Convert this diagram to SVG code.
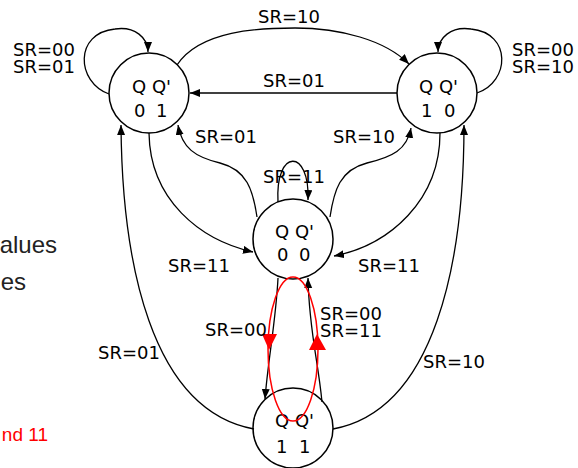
<svg xmlns="http://www.w3.org/2000/svg" width="578" height="468" viewBox="0 0 578 468">
<style>
.st{fill:none;stroke:#000;stroke-width:1.5}
.e{fill:none;stroke:#000;stroke-width:1.3;marker-end:url(#ah)}
.t{font-family:"DejaVu Sans",sans-serif;font-size:18px;fill:#000}
.side{font-family:"Liberation Sans",Arial,sans-serif;font-size:24px;fill:#222;text-anchor:end}
</style>
<defs>
<marker id="ah" markerUnits="userSpaceOnUse" markerWidth="11" markerHeight="9" refX="10" refY="4" orient="auto">
<path d="M0,0 L10,4 L0,8 z" fill="#000"/>
</marker>
</defs>
<rect width="578" height="468" fill="#fff"/>
<text class="side" x="57" y="253">alues</text>
<text class="side" x="26" y="290">es</text>
<text class="side" x="48" y="441" style="font-size:19px;fill:#f00">nd 11</text>

<g id="connectors">
<path class="e" d="M109,94 C76,82 74,33 115,29 C135,26 148,38 148,52"/>
<path class="e" d="M477,93 C510,82 512,33 471,29 C451,26 438,38 438,52"/>
<path class="e" d="M177,65 C200,30 260,28 295,28 C340,28 385,40 409,64"/>
<path class="e" d="M397,93 L190,93"/>
<path class="e" d="M257,217 C253,190 247,170 220,163 C195,157 182,148 178,125"/>
<path class="e" d="M330,217 C334,190 340,170 367,163 C392,157 407,150 411,128"/>
<path class="e" d="M149,133 C150,200 200,240 253,252"/>
<path class="e" d="M440,133 C440,200 390,245 334,256"/>
<path class="e" d="M278,202 C275,148 310,148 308,200"/>
<path class="e" d="M254,429 C150,410 122,260 121,125"/>
<path class="e" d="M333,429 C436,410 464,260 464,125"/>
<path class="e" d="M278,278 C276,320 268,360 265,399"/>
<path class="e" d="M322,402 C318,360 309,330 308,278"/>
</g>

<g id="s01">
<circle class="st" cx="149" cy="93" r="40"/>
<text class="t" x="132" y="93">Q Q'</text>
<text class="t" x="134" y="117">0</text><text class="t" x="156" y="117">1</text>
</g>
<g id="s10">
<circle class="st" cx="437" cy="93" r="40"/>
<text class="t" x="419" y="93">Q Q'</text>
<text class="t" x="421" y="117">1</text><text class="t" x="444" y="117">0</text>
</g>
<g id="s00">
<circle class="st" cx="293" cy="239" r="40"/>
<text class="t" x="275" y="238">Q Q'</text>
<text class="t" x="277" y="261">0</text><text class="t" x="299" y="261">0</text>
</g>
<g id="s11">
<circle class="st" cx="293" cy="428" r="40"/>
<text class="t" x="275" y="427">Q Q'</text>
<text class="t" x="276" y="453">1</text><text class="t" x="299" y="453">1</text>
</g>

<g id="race" fill="#f00">
<ellipse cx="293" cy="349" rx="25" ry="72" fill="none" stroke="#f00" stroke-width="1.5"/>
<polygon points="262,334 277,334 269,350"/>
<polygon points="309,350 326,350 317,334"/>
</g>

<g id="labels">
<text class="t" x="13" y="56">SR=00</text>
<text class="t" x="13" y="73">SR=01</text>
<text class="t" x="258" y="23">SR=10</text>
<text class="t" x="263" y="87">SR=01</text>
<text class="t" x="512" y="56">SR=00</text>
<text class="t" x="512" y="73">SR=10</text>
<text class="t" x="195" y="143">SR=01</text>
<text class="t" x="333" y="143">SR=10</text>
<text class="t" x="263" y="183">SR=11</text>
<text class="t" x="168" y="272">SR=11</text>
<text class="t" x="358" y="272">SR=11</text>
<text class="t" x="205" y="336">SR=00</text>
<text class="t" x="320" y="320">SR=00</text>
<text class="t" x="320" y="337">SR=11</text>
<text class="t" x="98" y="359">SR=01</text>
<text class="t" x="423" y="368">SR=10</text>
</g>
</svg>
